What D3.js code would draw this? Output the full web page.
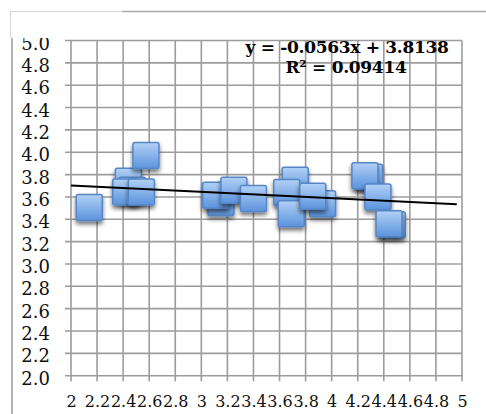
<!DOCTYPE html>
<html>
<head>
<meta charset="utf-8">
<script src="https://cdn.jsdelivr.net/npm/d3@7"></script>
<style>
  html, body { margin: 0; padding: 0; background: #fff; }
  svg { display: block; }
</style>
</head>
<body>
<svg id="chart" width="486" height="414"></svg>
<script>
// Observations (x, y)
const xValues = [2.14, 2.44, 2.47, 2.42, 2.54, 2.575, 3.15, 3.11, 3.25, 3.40, 3.72, 3.655, 3.69, 3.93, 3.855, 4.29, 4.255, 4.355, 4.465, 4.44];
const yValues = [3.505, 3.74, 3.66, 3.645, 3.645, 3.97, 3.55, 3.615, 3.66, 3.585, 3.75, 3.64, 3.45, 3.54, 3.605, 3.775, 3.79, 3.60, 3.35, 3.36];

// Linear trend: y = slope * x + intercept
const trendSlope = -0.0563;
const trendIntercept = 3.8138;
const trendRSquared = 0.09414;
const trendXRange = [2, 4.96];

// Axis ticks
const xTickValues = [2, 2.2, 2.4, 2.6, 2.8, 3, 3.2, 3.4, 3.6, 3.8, 4, 4.2, 4.4, 4.6, 4.8, 5];
const xTickLabels = ["2", "2.2", "2.4", "2.6", "2.8", "3", "3.2", "3.4", "3.6", "3.8", "4", "4.2", "4.4", "4.6", "4.8", "5"];
const yTickValues = [2, 2.2, 2.4, 2.6, 2.8, 3, 3.2, 3.4, 3.6, 3.8, 4, 4.2, 4.4, 4.6, 4.8, 5];
const yTickLabels = ["2.0", "2.2", "2.4", "2.6", "2.8", "3.0", "3.2", "3.4", "3.6", "3.8", "4.0", "4.2", "4.4", "4.6", "4.8", "5.0"];

const svg = d3.select("#chart");
const gridColor = "#9c9c9c";

const x = d3.scaleLinear().domain([2, 5]).range([71, 462]);
const y = d3.scaleLinear().domain([2, 5]).range([375.7, 40.5]);

const defs = svg.append("defs");
const grad = defs.append("linearGradient")
  .attr("id", "markerFill").attr("x1", 0).attr("y1", 0).attr("x2", 0).attr("y2", 1);
grad.append("stop").attr("offset", "0%").attr("stop-color", "#b2d1f6");
grad.append("stop").attr("offset", "100%").attr("stop-color", "#5b93dc");

const shadow = defs.append("filter").attr("id", "markerShadow")
  .attr("x", "-30%").attr("y", "-30%").attr("width", "160%").attr("height", "170%");
shadow.append("feDropShadow")
  .attr("dx", 0).attr("dy", 3).attr("stdDeviation", 2)
  .attr("flood-color", "#000").attr("flood-opacity", 0.55);

defs.append("clipPath").attr("id", "belowHeader")
  .append("rect").attr("x", 0).attr("y", 38).attr("width", 486).attr("height", 376);

// Outer frame
svg.append("line").attr("x1", 10).attr("x2", 122).attr("y1", 11.5).attr("y2", 11.5)
  .attr("stroke", "#d6d6d6").attr("stroke-width", 1);
svg.append("line").attr("x1", 122).attr("x2", 486).attr("y1", 11.5).attr("y2", 11.5)
  .attr("stroke", "#a9a9a9").attr("stroke-width", 1.5);
svg.append("line").attr("x1", 10.5).attr("x2", 10.5).attr("y1", 11).attr("y2", 38)
  .attr("stroke", "#d6d6d6").attr("stroke-width", 1);
svg.append("line").attr("x1", 12).attr("x2", 12).attr("y1", 38).attr("y2", 414)
  .attr("stroke", "#b4b4b4").attr("stroke-width", 2);

// Grid: vertical lines with small tick extension below the axis
const grid = svg.append("g").attr("stroke", gridColor).attr("stroke-width", 1.6);
grid.selectAll("line.v").data(xTickValues).join("line").attr("class", "v")
  .attr("x1", d => x(d)).attr("x2", d => x(d))
  .attr("y1", y(5)).attr("y2", y(2) + 5.5);
grid.selectAll("line.h").data(yTickValues).join("line").attr("class", "h")
  .attr("x1", x(2) - 6).attr("x2", x(5))
  .attr("y1", d => y(d)).attr("y2", d => y(d));

// Axis labels
const xAxis = d3.axisBottom(x).tickValues(xTickValues).tickSize(0)
  .tickFormat((d, i) => xTickLabels[i]);
const gx = svg.append("g").attr("transform", `translate(0,${y(2)})`).call(xAxis);
gx.select(".domain").remove();
gx.selectAll("text").attr("y", 31).attr("dy", 0)
  .attr("font-family", "DejaVu Serif").attr("font-size", 16).attr("fill", "#111");

const yAxis = d3.axisLeft(y).tickValues(yTickValues).tickSize(0)
  .tickFormat((d, i) => yTickLabels[i]);
const gy = svg.append("g").attr("clip-path", "url(#belowHeader)")
  .append("g").attr("transform", "translate(50,0)").call(yAxis);
gy.select(".domain").remove();
gy.selectAll("text").attr("x", 0).attr("dy", 8.5)
  .attr("font-family", "DejaVu Serif").attr("font-size", 18).attr("fill", "#111");

// Markers
const pts = xValues.map((v, i) => ({ x: v, y: yValues[i] }));
const side = 26;
svg.append("g").selectAll("rect").data(pts).join("rect")
  .attr("x", d => x(d.x) - side / 2)
  .attr("y", d => y(d.y) - side / 2)
  .attr("width", side).attr("height", side)
  .attr("rx", 2)
  .attr("fill", "url(#markerFill)")
  .attr("stroke", "#5686c6").attr("stroke-width", 1.5)
  .attr("filter", "url(#markerShadow)");

// Trend line
const trend = d3.line().x(d => x(d)).y(d => y(trendSlope * d + trendIntercept));
svg.append("path").datum(trendXRange).attr("d", trend)
  .attr("fill", "none").attr("stroke", "#000").attr("stroke-width", 2);

// Trend equation
const eq = svg.append("g").attr("font-family", "DejaVu Serif").attr("font-weight", "bold")
  .attr("font-size", 17).attr("letter-spacing", -0.3).attr("text-anchor", "middle").attr("fill", "#000");
eq.append("text").attr("x", 347).attr("y", 53)
  .text(`y = ${trendSlope}x + ${trendIntercept}`);
eq.append("text").attr("x", 346).attr("y", 72.5)
  .text(`R² = ${trendRSquared}`);
</script>
</body>
</html>
